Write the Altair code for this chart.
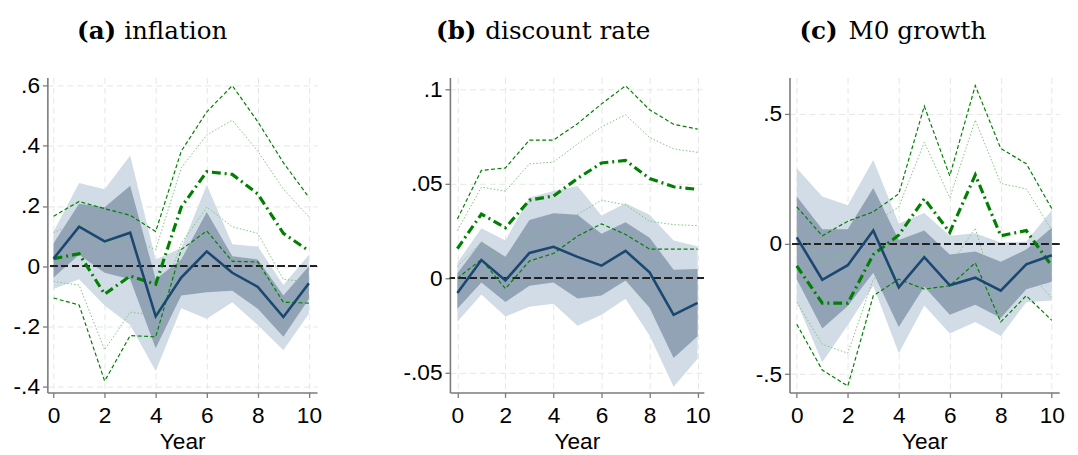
import altair as alt
import pandas as pd

years = list(range(11))

# (a) inflation
a_main = [0.025, 0.131, 0.082, 0.111, -0.167, -0.038, 0.049, -0.022, -0.069, -0.169, -0.057]
a_in_lo = [-0.038, 0.038, -0.022, -0.044, -0.273, -0.098, -0.087, -0.082, -0.142, -0.235, -0.109]
a_in_hi = [0.076, 0.207, 0.196, 0.267, -0.044, 0.022, 0.180, 0.033, 0.022, -0.098, 0.0]
a_out_lo = [-0.076, -0.044, -0.131, -0.196, -0.349, -0.140, -0.175, -0.120, -0.196, -0.280, -0.158]
a_out_hi = [0.115, 0.276, 0.256, 0.368, 0.022, 0.060, 0.270, 0.073, 0.065, -0.063, 0.038]
a_green = [0.025, 0.041, -0.093, -0.033, -0.060, 0.196, 0.314, 0.305, 0.240, 0.109, 0.051]
a_dash_lo = [-0.106, -0.129, -0.382, -0.231, -0.235, 0.055, 0.117, 0.016, 0.014, -0.120, -0.123]
a_dash_hi = [0.166, 0.215, 0.191, 0.169, 0.115, 0.382, 0.513, 0.600, 0.480, 0.344, 0.229]
a_dot_lo = [-0.051, -0.063, -0.278, -0.153, -0.164, 0.076, 0.196, 0.131, 0.109, -0.044, -0.052]
a_dot_hi = [0.112, 0.147, 0.076, 0.090, 0.055, 0.327, 0.436, 0.485, 0.382, 0.256, 0.164]

# (b) discount rate
b_main = [-0.0079, 0.0096, -0.0012, 0.0134, 0.0166, 0.0113, 0.0066, 0.0145, 0.0031, -0.0195, -0.0131]
b_in_lo = [-0.0162, -0.0023, -0.0127, -0.0040, -0.0023, -0.0108, -0.0092, -0.0012, -0.0157, -0.0424, -0.0309]
b_in_hi = [0.0026, 0.0195, 0.0113, 0.0309, 0.0344, 0.0337, 0.0236, 0.0297, 0.0215, 0.0044, 0.0049]
b_out_lo = [-0.0232, -0.0087, -0.0204, -0.0152, -0.0136, -0.0253, -0.0195, -0.0110, -0.0305, -0.0576, -0.0428]
b_out_hi = [0.0082, 0.0265, 0.0200, 0.0428, 0.0462, 0.0489, 0.0332, 0.0398, 0.0337, 0.0200, 0.0169]
b_green = [0.0157, 0.0340, 0.0267, 0.0414, 0.0436, 0.0529, 0.0611, 0.0625, 0.0529, 0.0485, 0.0471]
b_dash_lo = [0.0, 0.0099, -0.0056, 0.0091, 0.0131, 0.0223, 0.0288, 0.0232, 0.0154, 0.0154, 0.0154]
b_dash_hi = [0.0314, 0.0572, 0.0585, 0.0733, 0.0733, 0.0820, 0.0925, 0.1021, 0.0894, 0.0817, 0.0791]
b_dot_lo = [0.0061, 0.0192, 0.0070, 0.0218, 0.0248, 0.0337, 0.0414, 0.0389, 0.0302, 0.0284, 0.0279]
b_dot_hi = [0.0253, 0.0483, 0.0462, 0.0607, 0.0616, 0.0712, 0.0803, 0.0867, 0.0747, 0.0686, 0.0668]

# (c) M0 growth
c_main = [0.026, -0.137, -0.081, 0.052, -0.166, -0.050, -0.158, -0.129, -0.179, -0.078, -0.043]
c_in_lo = [-0.135, -0.324, -0.238, -0.110, -0.318, -0.164, -0.271, -0.233, -0.284, -0.173, -0.145]
c_in_hi = [0.183, 0.057, 0.057, 0.216, 0.016, 0.052, -0.040, -0.028, -0.068, -0.021, 0.063]
c_out_lo = [-0.223, -0.454, -0.311, -0.160, -0.419, -0.236, -0.343, -0.299, -0.353, -0.223, -0.217]
c_out_hi = [0.291, 0.183, 0.149, 0.323, 0.079, 0.120, 0.032, 0.042, 0.006, 0.010, 0.130]
c_green = [-0.084, -0.227, -0.227, -0.040, 0.035, 0.174, 0.045, 0.266, 0.032, 0.052, -0.084]
c_dash_lo = [-0.308, -0.484, -0.545, -0.198, -0.135, -0.173, -0.160, -0.072, -0.299, -0.198, -0.293]
c_dash_hi = [0.143, 0.032, 0.088, 0.124, 0.193, 0.530, 0.262, 0.609, 0.367, 0.309, 0.136]
c_dot_lo = [-0.223, -0.385, -0.419, -0.135, -0.066, -0.037, -0.082, 0.061, -0.267, -0.097, -0.208]
c_dot_hi = [0.054, -0.072, -0.034, 0.079, 0.143, 0.391, 0.178, 0.477, 0.233, 0.212, 0.054]

tags = ['(a)', '(b)', '(c)']
names = ['inflation', 'discount rate', 'M0 growth']

NAVY = '#1a476f'
GREEN = '#008000'
LABEL = "replace(toString(datum.value), '0.', '.')"


def frame(main, in_lo, in_hi, out_lo, out_hi, green, dash_lo, dash_hi, dot_lo, dot_hi):
    return pd.DataFrame({
        'year': years, 'main': main, 'in_lo': in_lo, 'in_hi': in_hi,
        'out_lo': out_lo, 'out_hi': out_hi, 'green': green,
        'dash_lo': dash_lo, 'dash_hi': dash_hi, 'dot_lo': dot_lo, 'dot_hi': dot_hi,
    })


def panel(df, x_dom, y_dom, y_ticks, width, extent, tag, name, tag_x, name_x):
    xs = alt.X('year:Q', scale=alt.Scale(domain=x_dom, nice=False, zero=False),
               axis=alt.Axis(values=[0, 2, 4, 6, 8, 10], title='Year',
                             labelPadding=8, titlePadding=3))
    y_scale = alt.Scale(domain=y_dom, nice=False, zero=False)
    y_axis = alt.Axis(values=y_ticks, labelExpr=LABEL, title=None,
                      minExtent=extent, maxExtent=extent)

    def ys(field):
        return alt.Y(field + ':Q', scale=y_scale, axis=y_axis)

    base = alt.Chart(df)
    outer = base.mark_area(color='#d1dce6', opacity=1).encode(x=xs, y=ys('out_lo'), y2='out_hi')
    inner = base.mark_area(color='#91a3b5', opacity=1).encode(x=xs, y=ys('in_lo'), y2='in_hi')
    zero = base.mark_rule(color='#222222', strokeDash=[7, 4], strokeWidth=1.3).encode(y=alt.datum(0))

    layers = [outer, inner, zero]
    for f in ['dot_lo', 'dot_hi']:
        layers.append(base.mark_line(color='#7cc47c', strokeWidth=1, strokeDash=[1.5, 2]).encode(x=xs, y=ys(f)))
    for f in ['dash_lo', 'dash_hi']:
        layers.append(base.mark_line(color=GREEN, strokeWidth=1.2, strokeDash=[4, 2.5]).encode(x=xs, y=ys(f)))
    layers.append(base.mark_line(color=GREEN, strokeWidth=3.2, strokeDash=[9, 4, 2, 4]).encode(x=xs, y=ys('green')))
    layers.append(base.mark_line(color=NAVY, strokeWidth=2.6).encode(x=xs, y=ys('main')))

    t1 = alt.Chart(pd.DataFrame({'t': [tag]})).mark_text(
        font='DejaVu Serif', fontSize=25, fontWeight='bold', align='right', baseline='alphabetic', color='black'
    ).encode(text='t:N', x=alt.value(tag_x), y=alt.value(-39))
    t2 = alt.Chart(pd.DataFrame({'t': [name]})).mark_text(
        font='DejaVu Serif', fontSize=25, align='left', baseline='alphabetic', color='black'
    ).encode(text='t:N', x=alt.value(name_x), y=alt.value(-39))
    layers += [t1, t2]

    return alt.layer(*layers).properties(width=width, height=320)


pa = panel(frame(a_main, a_in_lo, a_in_hi, a_out_lo, a_out_hi, a_green, a_dash_lo, a_dash_hi, a_dot_lo, a_dot_hi),
           [-0.243, 10.32], [-0.42, 0.627], [-0.4, -0.2, 0, 0.2, 0.4, 0.6], 274, 35, tags[0], names[0], 70, 78)
pb = panel(frame(b_main, b_in_lo, b_in_hi, b_out_lo, b_out_hi, b_green, b_dash_lo, b_dash_hi, b_dot_lo, b_dot_hi),
           [-0.31, 10.26], [-0.0607, 0.1065], [-0.05, 0, 0.05, 0.1], 258, 120, tags[1], names[1], 27, 36)
pc = panel(frame(c_main, c_in_lo, c_in_hi, c_out_lo, c_out_hi, c_green, c_dash_lo, c_dash_hi, c_dot_lo, c_dot_hi),
           [-0.286, 10.29], [-0.57, 0.64], [-0.5, 0, 0.5], 274, 70, tags[2], names[2], 49, 60)

chart = alt.hconcat(pa, pb, pc, spacing=10).properties(
    padding={'top': 8, 'left': 5, 'right': 5, 'bottom': 5}
).configure_view(
    stroke=None
).configure_axis(
    labelFont='Liberation Sans', labelFontSize=23, labelColor='black',
    titleFont='Liberation Sans', titleFontSize=23, titleColor='black', titleFontWeight='normal',
    domainColor='#7a7a7a', domainWidth=1.6, tickColor='#7a7a7a', tickWidth=1.3, tickSize=5,
    labelPadding=3, titlePadding=2,
    gridColor='#e6e6e6', gridDash=[6, 4], gridWidth=1
)

chart.save("out.html", embed_options={"renderer": "svg", "actions": False})
